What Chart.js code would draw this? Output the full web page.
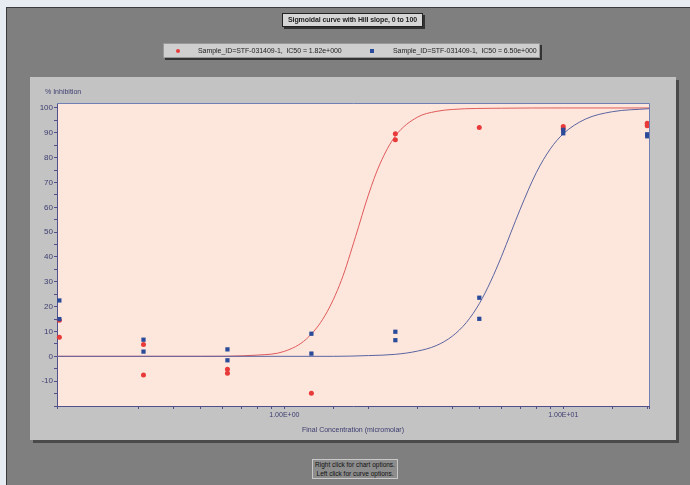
<!DOCTYPE html>
<html>
<head>
<meta charset="utf-8">
<script src="https://cdn.jsdelivr.net/npm/chart.js@4/dist/chart.umd.min.js"></script>
<style>
  body { margin: 0; background: #e6ecf2; font-family: "Liberation Sans", Arial, sans-serif; }
  #wrap { position: relative; width: 690px; height: 485px; }
  #chart { position: absolute; left: 0; top: 0; }
  .box { position: absolute; box-sizing: border-box; font-size: 7px; color: #222; white-space: nowrap; }
  #title { left: 282px; top: 13px; width: 141px; height: 14px; background: #d6d6d6; border: 1px solid #222;
           box-shadow: 2px 2px 0 #333; font-weight: bold; text-align: center; line-height: 12px; letter-spacing: -0.1px; }
  #legend { left: 163px; top: 43px; width: 377px; height: 15px; background: #cfcfcf; border: 1px solid #999;
            box-shadow: 2px 2px 0 #333; line-height: 13px; }
  #legend span { position: absolute; top: 0; letter-spacing: -0.05px; }
  .mk { position: absolute; }
  #footer { left: 312px; top: 459px; width: 86px; height: 20px; background: #8c8c8c; border: 1px solid #c8c8c8;
            font-size: 6.5px; line-height: 8.5px; text-align: center; padding-top: 1px; color: #111; }
</style>
</head>
<body>
<div id="wrap">
  <canvas id="chart" width="690" height="485"></canvas>
  <div class="box" id="title">Sigmoidal curve with Hill slope, 0 to 100</div>
  <div class="box" id="legend">
    <div class="mk" style="left:12px;top:5px;width:4px;height:4px;border-radius:50%;background:#e83a3a"></div>
    <span style="left:34px">Sample_ID=STF-031409-1,&nbsp; IC50 = 1.82e+000</span>
    <div class="mk" style="left:206px;top:5px;width:4px;height:4px;background:#2a4a9a"></div>
    <span style="left:229px">Sample_ID=STF-031409-1,&nbsp; IC50 = 6.50e+000</span>
  </div>
  <div class="box" id="footer">Right click for chart options.<br>Left click for curve options.</div>
</div>
<script>
// dilution series (micromolar)
const conc = [0.156, 0.3125, 0.625, 1.25, 2.5, 5, 10, 20];
// % inhibition, two replicates per sample
const redA = [14.5, 4.8, -5.2, -14.9, 89.6, 92.1, 92.5, 93.8];
const redB = [7.7, -7.5, -6.8, null, 87.2, null, 91.5, 92.8];
const blueA = [22.5, 6.7, 2.8, 9.1, 9.9, 23.6, 91.2, 89.4];
const blueB = [15.0, 1.9, -1.6, 1.1, 6.5, 15.1, 89.8, 88.6];

// fitted curves
const redCurveX = [0.153, 0.5, 0.8, 1.0, 1.2, 1.4, 1.6, 1.8, 2.0, 2.2, 2.5, 3.0, 3.5, 4.0, 6, 10, 20.3];
const redCurveY = [0, 0, 0.5, 2.0, 7.0, 16.5, 30.5, 48.2, 64.9, 77.4, 88.7, 96.3, 98.6, 99.4, 99.9, 100, 100];
const blueCurveX = [0.153, 1.5, 2.0, 2.5, 3.0, 3.5, 4.0, 4.5, 5.0, 5.5, 6.0, 6.5, 7.0, 8.0, 9.0, 10, 12, 15, 20.3];
const blueCurveY = [0, 0, 0.3, 0.8, 2.1, 4.3, 8.1, 13.7, 21.2, 30.3, 40.1, 50, 59.1, 73.9, 83.6, 89.6, 95.5, 98.5, 99.7];

// y ticks every 5, labels every 10
const yTicks = [-20, -15, -10, -5, 0, 5, 10, 15, 20, 25, 30, 35, 40, 45, 50, 55, 60, 65, 70, 75, 80, 85, 90, 95, 100];
const yLabels = [-10, 0, 10, 20, 30, 40, 50, 60, 70, 80, 90, 100];

function pts(xs, ys) {
  const out = [];
  xs.forEach((x, i) => { if (ys[i] !== null) out.push({ x: x, y: ys[i] }); });
  return out;
}

const axisColor = '#50508c';
const labelColor = '#3c3c70';

const frame = {
  id: 'frame',
  beforeDraw(chart) {
    const c = chart.ctx, a = chart.chartArea;
    c.save();
    c.fillStyle = '#e6ecf2';
    c.fillRect(0, 0, 690, 485);
    c.fillStyle = '#7f7f7f';
    c.fillRect(6, 8, 684, 477);
    c.fillStyle = '#3a3a3a';
    c.fillRect(6, 7, 684, 1);
    c.fillRect(6, 7, 1, 478);
    // panel
    c.fillStyle = '#4a4a4a';
    c.fillRect(33, 80, 646, 363);
    c.fillStyle = '#c3c3c3';
    c.fillRect(30, 77, 646, 363);
    // plot background
    c.fillStyle = '#fde7dd';
    c.fillRect(a.left, a.top, a.right - a.left, a.bottom - a.top);
    // y axis title
    c.fillStyle = labelColor;
    c.font = '7px "Liberation Sans", Arial, sans-serif';
    c.textBaseline = 'middle';
    c.fillText('% Inhibition', 45, 92);
    c.restore();
  },
  afterDraw(chart) {
    const c = chart.ctx, a = chart.chartArea;
    c.save();
    c.strokeStyle = '#7080b4';
    c.lineWidth = 1;
    c.beginPath();
    c.moveTo(a.left, a.top + 0.5);
    c.lineTo(a.right + 0.5, a.top + 0.5);
    c.lineTo(a.right + 0.5, a.bottom);
    c.stroke();
    c.restore();
  }
};

new Chart(document.getElementById('chart'), {
  type: 'scatter',
  data: {
    datasets: [
      {
        type: 'line', data: pts(redCurveX, redCurveY), borderColor: '#e05a5a', borderWidth: 1,
        pointRadius: 0, cubicInterpolationMode: 'monotone', fill: false, order: 4
      },
      {
        type: 'line', data: pts(blueCurveX, blueCurveY), borderColor: '#5a64a0', borderWidth: 1,
        pointRadius: 0, cubicInterpolationMode: 'monotone', fill: false, order: 3
      },
      {
        data: pts(conc, redA).concat(pts(conc, redB)), pointStyle: 'circle', pointRadius: 2.5,
        backgroundColor: '#e83a3a', borderWidth: 0, order: 2, clip: false
      },
      {
        data: pts(conc, blueA).concat(pts(conc, blueB)), pointStyle: 'rect', pointRadius: 3,
        backgroundColor: '#2a4a9a', borderWidth: 0, order: 1, clip: false
      }
    ]
  },
  options: {
    responsive: false,
    animation: false,
    events: [],
    layout: { padding: { left: 0, right: 41, top: 103, bottom: 45 } },
    plugins: { legend: { display: false }, tooltip: { enabled: false }, title: { display: false } },
    scales: {
      x: {
        type: 'logarithmic',
        min: 0.153,
        max: 20.3,
        afterFit(scale) { scale.height = 34; },
        border: { color: axisColor, width: 1 },
        grid: { drawOnChartArea: false, tickLength: 3, color: axisColor },
        ticks: {
          autoSkip: false, maxRotation: 0, padding: 2, color: labelColor,
          font: { family: '"Liberation Sans", Arial, sans-serif', size: 7 },
          callback: (v) => v === 1 ? '1.00E+00' : (v === 10 ? '1.00E+01' : '')
        },
        title: {
          display: true, text: 'Final Concentration (micromolar)', color: labelColor,
          font: { family: '"Liberation Sans", Arial, sans-serif', size: 7 }, padding: { top: 0, bottom: 6 }
        }
      },
      y: {
        min: -20,
        max: 102,
        afterFit(scale) { scale.width = 57; },
        afterBuildTicks(scale) { scale.ticks = yTicks.map(v => ({ value: v })); },
        border: { color: axisColor, width: 1 },
        grid: { drawOnChartArea: false, tickLength: 3, color: axisColor },
        ticks: {
          autoSkip: false, padding: 1, color: labelColor,
          font: { family: '"Liberation Sans", Arial, sans-serif', size: 8 },
          callback: (v) => yLabels.includes(v) ? String(v) : ''
        }
      }
    }
  },
  plugins: [frame]
});
</script>
</body>
</html>
